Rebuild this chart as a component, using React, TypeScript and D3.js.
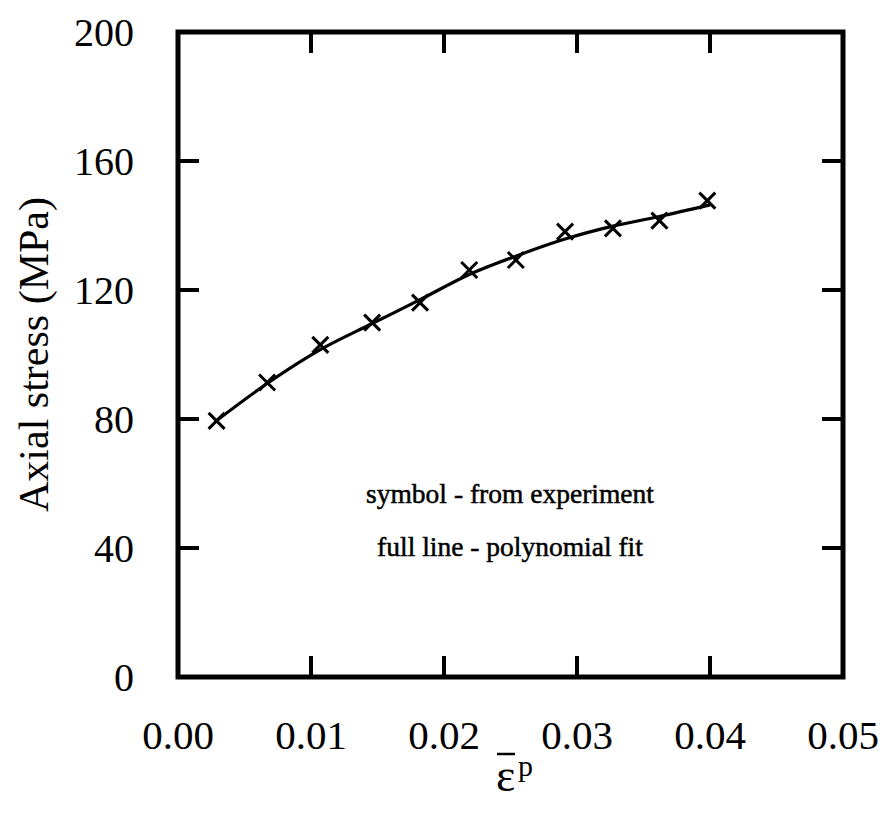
import React from "react";
import * as d3 from "d3";

const xTicks = [0, 0.01, 0.02, 0.03, 0.04, 0.05];
const yTicks = [0, 40, 80, 120, 160, 200];

// experimental symbols
const expStrain = [0.0029, 0.0067, 0.0107, 0.0146, 0.0182, 0.0219, 0.0254, 0.0291, 0.0327, 0.0362, 0.0398];
const expStress = [79.4, 91.3, 103.0, 109.9, 116.1, 126.2, 129.3, 138.1, 139.1, 141.5, 147.7];

// polynomial fit line
const fitStrain = [0.0029, 0.0067, 0.0107, 0.0146, 0.0182, 0.0219, 0.0254, 0.0291, 0.0327, 0.0362, 0.04];
const fitStress = [79.5, 91.0, 101.5, 109.6, 117.0, 124.8, 130.5, 135.8, 139.8, 142.8, 146.4];

const W = 886;
const H = 814;
const m = { left: 178, right: 843, top: 32, bottom: 677 };

export default function App() {
  const x = d3.scaleLinear().domain([0, 0.05]).range([m.left, m.right]);
  const y = d3.scaleLinear().domain([0, 200]).range([m.bottom, m.top]);
  const line = d3
    .line<number>()
    .x((_, i) => x(fitStrain[i]))
    .y((d) => y(d))
    .curve(d3.curveMonotoneX);
  const tl = 21;
  const font = "'Liberation Serif', 'Times New Roman', serif";
  const cs = 8;
  return (
    <svg width={W} height={H} style={{ position: "absolute", left: 0, top: 0, background: "#fff" }}>
      <rect x={0} y={0} width={W} height={H} fill="#fff" />
      {/* ticks */}
      {xTicks.slice(1, -1).map((t) => (
        <g key={"xt" + t}>
          <line x1={x(t)} x2={x(t)} y1={m.bottom} y2={m.bottom - tl} stroke="#000" strokeWidth={4} />
          <line x1={x(t)} x2={x(t)} y1={m.top} y2={m.top + tl} stroke="#000" strokeWidth={4} />
        </g>
      ))}
      {yTicks.slice(1, -1).map((t) => (
        <g key={"yt" + t}>
          <line x1={m.left} x2={m.left + tl} y1={y(t)} y2={y(t)} stroke="#000" strokeWidth={4} />
          <line x1={m.right} x2={m.right - tl} y1={y(t)} y2={y(t)} stroke="#000" strokeWidth={4} />
        </g>
      ))}
      <rect x={m.left} y={m.top} width={m.right - m.left} height={m.bottom - m.top} fill="none" stroke="#000" strokeWidth={5} />
      {/* tick labels */}
      {xTicks.map((t) => (
        <text key={"xl" + t} x={x(t)} y={749} textAnchor="middle" fontFamily={font} fontSize={41} fill="#000">
          {t.toFixed(2)}
        </text>
      ))}
      {yTicks.map((t) => (
        <text key={"yl" + t} x={134} y={y(t)} dy="0.35em" textAnchor="end" fontFamily={font} fontSize={40} fill="#000">
          {t}
        </text>
      ))}
      {/* fit line */}
      <path d={line(fitStress) || ""} fill="none" stroke="#000" strokeWidth={3.2} />
      {/* symbols */}
      {expStress.map((v, i) => {
        const cx = x(expStrain[i]);
        const cy = y(v);
        return (
          <g key={"s" + i} stroke="#000" strokeWidth={3}>
            <line x1={cx - cs} y1={cy - cs} x2={cx + cs} y2={cy + cs} />
            <line x1={cx - cs} y1={cy + cs} x2={cx + cs} y2={cy - cs} />
          </g>
        );
      })}
      {/* annotations */}
      <text x={510} y={503} textAnchor="middle" fontFamily={font} fontSize={27.5} fill="#000" stroke="#000" strokeWidth={0.5}>
        symbol - from experiment
      </text>
      <text x={510} y={556} textAnchor="middle" fontFamily={font} fontSize={27.5} fill="#000" stroke="#000" strokeWidth={0.5}>
        full line - polynomial fit
      </text>
      {/* axis titles */}
      <text
        transform={`translate(48, ${(m.top + m.bottom) / 2}) rotate(-90)`}
        textAnchor="middle"
        fontFamily={font}
        fontSize={42}
        fill="#000"
      >
        Axial stress (MPa)
      </text>
      <text x={496} y={791} fontFamily={font} fontSize={46} fill="#000">
        ε
      </text>
      <line x1={497} x2={515} y1={754} y2={754} stroke="#000" strokeWidth={2.5} />
      <text x={518} y={776} fontFamily={font} fontSize={30} fill="#000">
        p
      </text>
    </svg>
  );
}
